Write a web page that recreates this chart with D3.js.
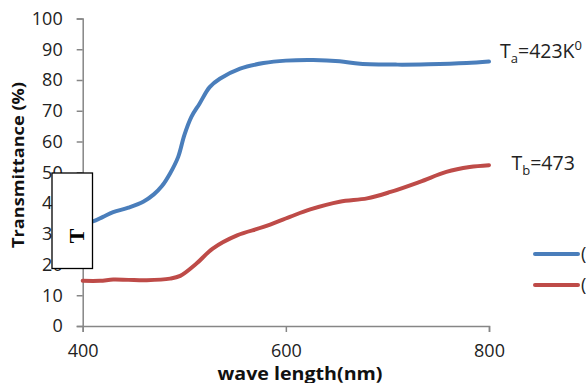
<!DOCTYPE html>
<html><head><meta charset="utf-8">
<script src="https://cdn.jsdelivr.net/npm/d3@7"></script>
<style>
body{margin:0;background:#fff;}
svg{display:block;font-family:"Open Sans",sans-serif;}
</style></head>
<body><svg id="c" width="586" height="383"></svg>
<script>
// Data
const wlA = [400,410,420,430,445,460,470,478,486,494,500,507,515,525,535,555,578,600,627,653,673,710,740,778,800];
const tA  = [33.5,34,35.5,37,38.5,40.5,42.8,45.5,49.6,55,62,68,72.3,77.7,80.4,83.7,85.5,86.3,86.5,86.1,85.3,85,85.1,85.5,86];
const wlB = [400,417,430,445,463,486,496,512,528,552,578,604,624,653,680,703,732,758,781,800];
const tB  = [14.7,14.7,15.1,15,14.9,15.4,16.3,20.3,25.2,29.5,32.2,35.5,37.9,40.4,41.5,43.6,46.9,50.1,51.7,52.3];
const xTicks = [400,600,800];
const yTicks = [0,10,20,30,40,50,60,70,80,90,100];
const seriesLabels = [{main:"T",sub:"a",rest:"=423K",sup:"0"},{main:"T",sub:"b",rest:"=473",sup:""}];
const legendLabels = ["(","("];
const colors = ["#4a7ebb","#be4b48"];

const svg = d3.select("#c");
const x = d3.scaleLinear().domain([400,800]).range([82.7,489]);
const y = d3.scaleLinear().domain([0,100]).range([326,18.5]);
const axisColor = "#868686";

// y axis
const gy = svg.append("g").attr("transform","translate(82.7,0)")
  .call(d3.axisLeft(y).tickValues(yTicks).tickSize(6).tickPadding(14));
gy.selectAll("path,line").attr("stroke",axisColor).attr("stroke-width",1.5);
gy.selectAll("text").attr("font-family","Open Sans").attr("font-size",18).attr("fill","#222");
// x axis
const gx = svg.append("g").attr("transform","translate(0,326)")
  .call(d3.axisBottom(x).tickValues(xTicks).tickSize(6).tickPadding(12));
gx.selectAll("path,line").attr("stroke",axisColor).attr("stroke-width",1.5);
gx.selectAll("text").attr("font-family","Open Sans").attr("font-size",18).attr("fill","#222");

// axis titles
svg.append("text").attr("transform","translate(24,165) rotate(-90)").attr("text-anchor","middle")
  .attr("font-weight","bold").attr("font-size",16.5).attr("fill","#111")
  .attr("textLength",166).attr("lengthAdjust","spacingAndGlyphs").text("Transmittance (%)");
svg.append("text").attr("x",300).attr("y",379.5).attr("text-anchor","middle")
  .attr("font-weight","bold").attr("font-size",17.5).attr("fill","#111")
  .attr("textLength",165).attr("lengthAdjust","spacingAndGlyphs").text("wave length(nm)");

// lines
const line = d3.line().x(d=>x(d[0])).y(d=>y(d[1])).curve(d3.curveCatmullRom);
[[wlA,tA],[wlB,tB]].forEach((s,i)=>{
  svg.append("path").datum(s[0].map((w,j)=>[w,s[1][j]]))
    .attr("d",line).attr("fill","none").attr("stroke",colors[i]).attr("stroke-width",4)
    .attr("stroke-linecap","round").attr("stroke-linejoin","round");
});

// end labels
const labPos = [[500,58],[511.5,170]];
seriesLabels.forEach((l,i)=>{
  const t = svg.append("text").attr("x",labPos[i][0]).attr("y",labPos[i][1])
    .attr("font-size",19.5).attr("fill","#222");
  t.append("tspan").text(l.main);
  t.append("tspan").attr("font-size",13).attr("dy",5).text(l.sub);
  t.append("tspan").attr("dy",-5).text(l.rest);
  if(l.sup) t.append("tspan").attr("font-size",13).attr("dy",-8).text(l.sup);
});

// legend
const legY = [254,285];
legendLabels.forEach((l,i)=>{
  svg.append("line").attr("x1",535).attr("x2",578).attr("y1",legY[i]).attr("y2",legY[i])
    .attr("stroke",colors[i]).attr("stroke-width",4).attr("stroke-linecap","round");
  svg.append("text").attr("x",581).attr("y",legY[i]+6).attr("font-size",18).attr("fill","#222").text(l);
});

// overlay box
svg.append("rect").attr("x",52).attr("y",173).attr("width",40.5).attr("height",95.5)
  .attr("fill","#fff").attr("stroke","#000").attr("stroke-width",1.3);
svg.append("text").attr("transform","translate(76,236) rotate(-90)").attr("text-anchor","middle")
  .attr("dominant-baseline","central").attr("font-family","Liberation Serif").attr("font-weight","bold")
  .attr("font-size",22).attr("fill","#000").text("T");
</script></body></html>
